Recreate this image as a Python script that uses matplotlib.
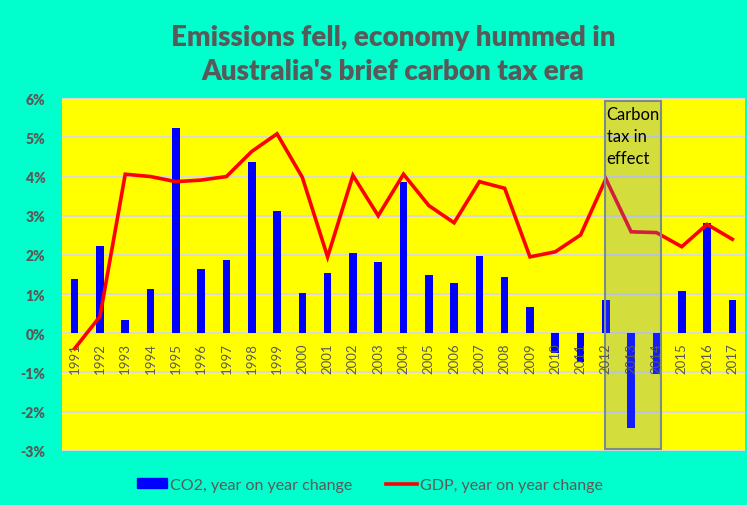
import numpy as np
import matplotlib.pyplot as plt
from matplotlib.patches import Rectangle
from matplotlib.lines import Line2D
from matplotlib.transforms import offset_copy

years = [str(y) for y in range(1991, 2018)]

# CO2 emissions, year on year change (%)
co2 = [1.38, 2.22, 0.33, 1.13, 5.23, 1.64, 1.87, 4.37, 3.11, 1.03,
       1.55, 2.06, 1.81, 3.85, 1.48, 1.29, 1.96, 1.44, 0.67, -0.50,
       -0.72, 0.84, -2.42, -1.05, 1.07, 2.82, 0.84]

# GDP, year on year change (%)
gdp = [-0.39, 0.43, 4.06, 4.00, 3.87, 3.91, 4.00, 4.64, 5.09, 3.98,
       1.95, 4.03, 3.00, 4.06, 3.26, 2.82, 3.87, 3.70, 1.95, 2.08,
       2.51, 3.94, 2.59, 2.57, 2.21, 2.78, 2.40]

tax_start = "2012"
tax_end = "2014"

bg = "#00FFCC"
plot_bg = "#FFFF00"
grey = "#595959"
fonts = ["Lato", "DejaVu Sans"]

fig = plt.figure(figsize=(7.47, 5.06), dpi=100, facecolor=bg)
ax = fig.add_axes([0.083, 0.107, 0.9143, 0.697])
ax.set_facecolor(plot_bg)

x = np.arange(len(years))
ax.bar(x, co2, width=0.3, color="#0000FF", zorder=2)
ax.plot(x, gdp, color="#FF0000", lw=2.6, zorder=3, solid_joinstyle="miter")

ax.set_xlim(-0.5, len(years) - 0.5)
ax.set_ylim(-3, 6)
ax.set_yticks(range(-3, 7))
ax.set_yticklabels([f"{v}%" for v in range(-3, 7)], fontfamily=fonts,
                   fontweight="heavy", fontsize=10, color=grey)
ax.yaxis.grid(True, color="#D9D9D9", lw=1.4, zorder=0)
ax.set_axisbelow(True)
ax.tick_params(axis="y", length=0, pad=12)
ax.set_xticks([])
for s in ax.spines.values():
    s.set_visible(False)

# year labels sit just under the zero line
lab_tr = offset_copy(ax.transData, fig=fig, y=-9, units="dots")
for i, yr in enumerate(years):
    ax.text(i, 0, yr, transform=lab_tr, rotation=90, ha="center", va="top",
            fontsize=9.5, color=grey, fontfamily=fonts, zorder=5)

# carbon tax period box
i0 = years.index(tax_start)
i1 = years.index(tax_end)
box = Rectangle((i0 - 0.03, -2.96), (i1 - i0) + 0.2, 8.88,
                facecolor="#537BF0", alpha=0.25, edgecolor="none", zorder=4)
ax.add_patch(box)
ax.add_patch(Rectangle((i0 - 0.03, -2.96), (i1 - i0) + 0.2, 8.88,
                       facecolor="none", edgecolor="#7A8C8C", lw=1.5, zorder=4))
ax.text(i0 + 0.03, 5.8, "Carbon\ntax in\neffect", ha="left", va="top",
        fontsize=12, fontfamily=fonts, color="black", linespacing=1.45, zorder=6)

fig.text(0.526, 0.925, "Emissions fell, economy hummed in", ha="center", va="center",
         fontsize=20, fontweight="heavy", color=grey, fontfamily=fonts)
fig.text(0.526, 0.857, "Australia's brief carbon tax era", ha="center", va="center",
         fontsize=20, fontweight="heavy", color=grey, fontfamily=fonts)

handles = [Rectangle((0, 0), 1, 1, color="#0000FF"),
           Line2D([0], [0], color="#FF0000", lw=2.6)]
fig.legend(handles, ["CO2, year on year change", "GDP, year on year change"],
           loc="center", bbox_to_anchor=(0.495, 0.04), ncol=2, frameon=False,
           prop={"family": fonts, "size": 11.5}, labelcolor=grey,
           handlelength=1.9, handleheight=0.55, handletextpad=0.2, columnspacing=2.1)

fig.savefig("out.png", dpi=100, facecolor=bg)
